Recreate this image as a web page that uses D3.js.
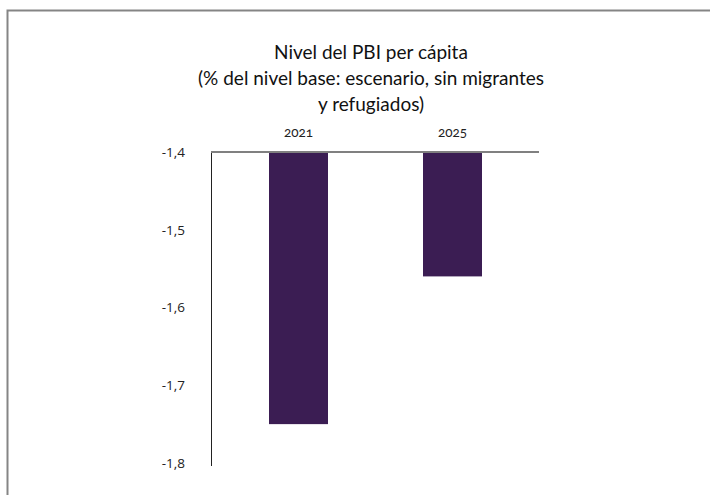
<!DOCTYPE html>
<html>
<head>
<meta charset="utf-8">
<script src="https://cdn.jsdelivr.net/npm/d3@7"></script>
<style>
  html, body { margin: 0; padding: 0; background: #fff; }
  svg { display: block; }
</style>
</head>
<body>
<svg id="chart" width="710" height="495"></svg>
<script>
const categories = ["2021", "2025"];
const values = [-1.75, -1.56];
const yTicks = [-1.4, -1.5, -1.6, -1.7, -1.8];
const titleLines = ["Nivel del PBI per cápita", "(% del nivel base: escenario, sin migrantes", "y refugiados)"];

const svg = d3.select("#chart");

// outer frame
svg.append("rect")
  .attr("x", 7.5).attr("y", 10.5)
  .attr("width", 740).attr("height", 520)
  .attr("fill", "none").attr("stroke", "#858585").attr("stroke-width", 2);

const plotLeft = 211, plotRight = 539, plotTop = 152, plotBottom = 463;

const y = d3.scaleLinear().domain([-1.4, -1.8]).range([plotTop, plotBottom]);
const x = d3.scaleBand().domain(categories).range([221.5, 529.5]).paddingInner(0.617).paddingOuter(0.3085);

// bars (from top baseline -1.4 down to value)
svg.append("g").selectAll("rect").data(categories).join("rect")
  .attr("x", d => x(d))
  .attr("width", x.bandwidth())
  .attr("y", y(-1.4))
  .attr("height", (d, i) => y(values[i]) - y(-1.4))
  .attr("fill", "#3b1d53");

// y axis
const yAxis = d3.axisLeft(y).tickValues(yTicks).tickSize(0).tickPadding(26)
  .tickFormat(d => d3.format(".1f")(d).replace(".", ",").replace("−", "-"));
const gy = svg.append("g").attr("transform", `translate(${plotLeft},0)`).call(yAxis);
gy.select(".domain").remove();
gy.selectAll("text").attr("font-family", "'Open Sans', sans-serif").attr("font-size", 13.5).attr("fill", "#222");
svg.append("line").attr("x1", plotLeft + 0.5).attr("x2", plotLeft + 0.5)
  .attr("y1", plotTop).attr("y2", plotBottom + 3).attr("stroke", "#222").attr("stroke-width", 1);

// top category axis line
svg.append("line").attr("x1", plotLeft).attr("x2", plotRight)
  .attr("y1", plotTop).attr("y2", plotTop).attr("stroke", "#808080").attr("stroke-width", 2);

// category labels on top
const xAxis = d3.axisTop(x).tickSize(0).tickPadding(15);
const gx = svg.append("g").attr("transform", `translate(0,${plotTop})`).call(xAxis);
gx.select(".domain").remove();
gx.selectAll("text").attr("font-family", "Lato, sans-serif").attr("font-size", 13.5).attr("fill", "#222")
  .style("font-variant-numeric", "oldstyle-nums");

// title
const title = svg.append("text").attr("text-anchor", "middle")
  .attr("font-family", "Lato, sans-serif").attr("font-size", 19).attr("fill", "#111");
titleLines.forEach((t, i) => {
  title.append("tspan").attr("x", 371).attr("y", 59 + i * 26).text(t);
});
</script>
</body>
</html>
